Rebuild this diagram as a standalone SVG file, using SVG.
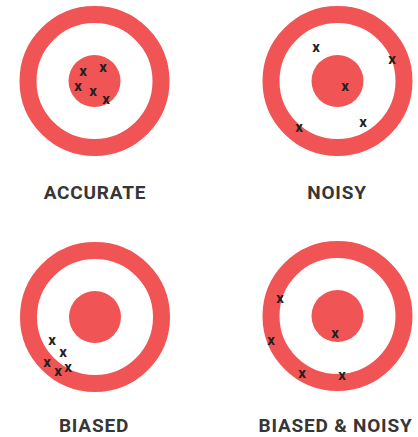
<svg xmlns="http://www.w3.org/2000/svg" width="418" height="437" viewBox="0 0 418 437">
<style>
.ring{fill:none;stroke:#f05454;stroke-width:17}
.eye{fill:#f05454}
.lbl{font-family:Roboto,"Liberation Sans",sans-serif;font-weight:700;font-size:19px;letter-spacing:0.8px;fill:#363636;text-anchor:middle}
.x{font-family:Roboto,"Liberation Sans",sans-serif;font-weight:700;font-size:15px;fill:#222;text-anchor:middle;dominant-baseline:central}
</style>
<rect width="418" height="437" fill="#fff"/>
<g id="accurate">
<circle class="ring" cx="94.5" cy="81" r="66.5"/>
<circle class="eye" cx="94.5" cy="81" r="26"/>
<text class="x" x="83" y="71">x</text>
<text class="x" x="103" y="67">x</text>
<text class="x" x="78" y="86">x</text>
<text class="x" x="93" y="91">x</text>
<text class="x" x="106" y="99">x</text>
<text class="lbl" x="95" y="199">ACCURATE</text>
</g>
<g id="noisy">
<circle class="ring" cx="337.5" cy="81" r="66.5"/>
<circle class="eye" cx="337.5" cy="81" r="26"/>
<text class="x" x="316" y="47">x</text>
<text class="x" x="392" y="59">x</text>
<text class="x" x="345" y="86">x</text>
<text class="x" x="299" y="127">x</text>
<text class="x" x="363" y="122">x</text>
<text class="lbl" x="337" y="199">NOISY</text>
</g>
<g id="biased">
<circle class="ring" cx="95" cy="317" r="66.5"/>
<circle class="eye" cx="95" cy="317" r="26"/>
<text class="x" x="52" y="340">x</text>
<text class="x" x="63" y="352">x</text>
<text class="x" x="47" y="362">x</text>
<text class="x" x="58" y="371">x</text>
<text class="x" x="68" y="367">x</text>
<text class="lbl" x="94" y="432">BIASED</text>
</g>
<g id="biased-noisy">
<circle class="ring" cx="337.5" cy="316" r="66.5"/>
<circle class="eye" cx="337.5" cy="316" r="26"/>
<text class="x" x="280" y="298">x</text>
<text class="x" x="271" y="340">x</text>
<text class="x" x="335" y="333">x</text>
<text class="x" x="302" y="373">x</text>
<text class="x" x="342" y="375">x</text>
<text class="lbl" x="335.5" y="432">BIASED &amp; NOISY</text>
</g>
<g id="connectors"/>
</svg>
